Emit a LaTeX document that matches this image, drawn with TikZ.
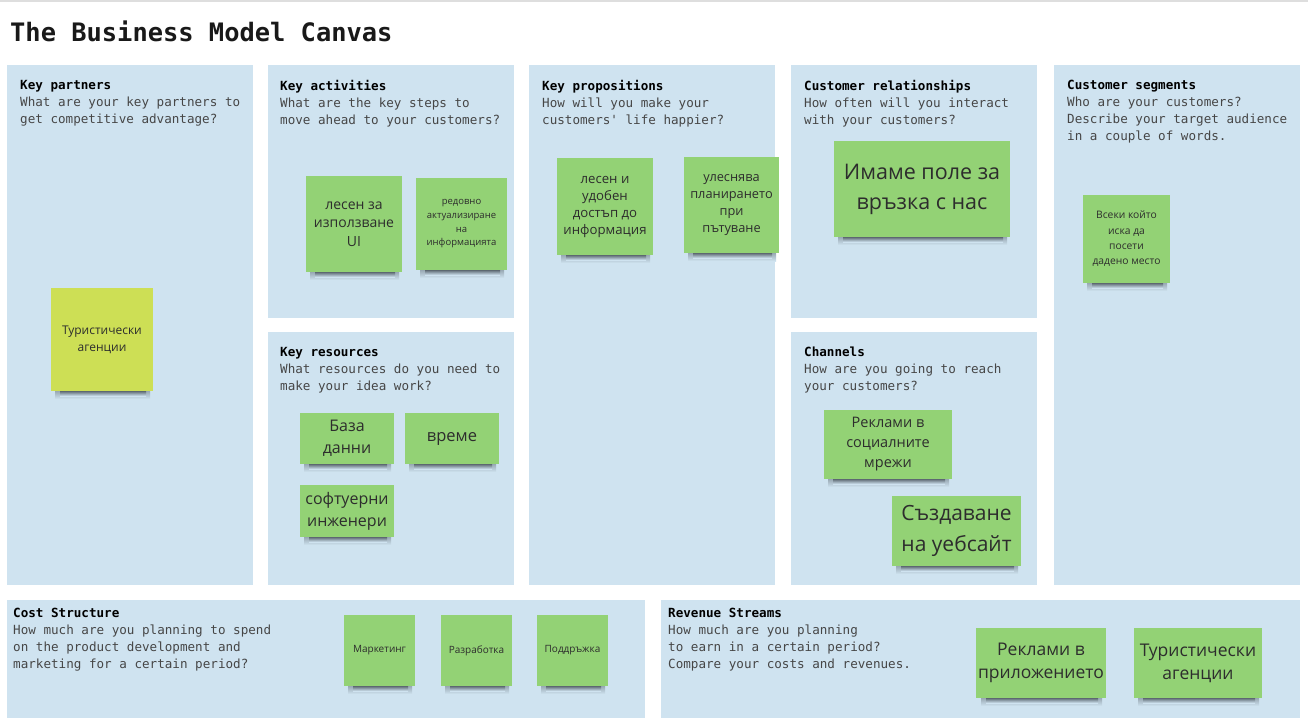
\documentclass[tikz,border=0pt]{standalone}
\usepackage{fontspec}
\newfontfamily\monof{DejaVu Sans Mono}
\newfontfamily\osans{Open Sans}
\definecolor{panelbg}{RGB}{207,227,240}
\definecolor{stgreen}{RGB}{147,210,117}
\definecolor{styellow}{RGB}{205,223,85}
\definecolor{sttext}{RGB}{45,45,45}
\definecolor{desctext}{RGB}{70,70,70}
\definecolor{toprule}{RGB}{222,222,222}
\definecolor{shadowdark}{RGB}{70,80,88}
\tikzset{
  panel/.style={fill=panelbg, draw=none},
  paneltext/.style={anchor=north west, inner sep=0pt, align=left, text=desctext,
    font=\monof\fontsize{12.6}{17}\selectfont},
  stickybox/.style={draw=none, inner sep=2pt, align=center, text=sttext},
  shadowA/.style={top color=shadowdark, bottom color=panelbg, draw=none},
  shadowB/.style={top color=shadowdark!45!panelbg, bottom color=panelbg, draw=none},
}
% #1 name #2 x1 #3 y1 #4 x2 #5 y2 #6 size #7 leading #8 colour #9 text
\newcommand\stk[9]{%
  \shade[shadowB] ({#2+4},{#5-1}) rectangle ({#4-3},{#5+8});
  \shade[shadowA] ({#2+9},{#5-1}) rectangle ({#4-7},{#5+5});
  \node[stickybox, fill=#8, minimum width={(#4-#2)*1pt}, minimum height={(#5-#3)*1pt},
    font=\osans\fontsize{#6}{#7}\selectfont] (#1) at ({(#2+#4)/2},{(#3+#5)/2}) {#9};%
}
\begin{document}
\begin{tikzpicture}[x=1pt,y=-1pt]
\useasboundingbox (0,0) rectangle (1308,722);
\fill[white] (0,0) rectangle (1308,722);
\fill[toprule] (0,0) rectangle (1308,2);

\node[anchor=base west, inner sep=0pt, text=black!90, font=\monof\bfseries\fontsize{25.4}{30}\selectfont] (title) at (10,42) {The Business Model Canvas};

% panels
\path[panel] (7,65) rectangle (253,585);
\path[panel] (268,65) rectangle (514,318);
\path[panel] (268,332) rectangle (514,585);
\path[panel] (529,65) rectangle (775,585);
\path[panel] (791,65) rectangle (1037,318);
\path[panel] (791,332) rectangle (1037,585);
\path[panel] (1054,65) rectangle (1300,585);
\path[panel] (7,600) rectangle (645,718);
\path[panel] (661,600) rectangle (1300,718);

% panel texts
\node[paneltext] (kp) at (20,80) {\textcolor{black}{\bfseries Key partners}\\What are your key partners to\\get competitive advantage?};
\node[paneltext] (ka) at (280,80) {\textcolor{black}{\bfseries Key activities}\\What are the key steps to\\move ahead to your customers?};
\node[paneltext] (kr) at (280,347) {\textcolor{black}{\bfseries Key resources}\\What resources do you need to\\make your idea work?};
\node[paneltext] (kpr) at (542,80) {\textcolor{black}{\bfseries Key propositions}\\How will you make your\\customers' life happier?};
\node[paneltext] (cr) at (804,80) {\textcolor{black}{\bfseries Customer relationships}\\How often will you interact\\with your customers?};
\node[paneltext] (ch) at (804,347) {\textcolor{black}{\bfseries Channels}\\How are you going to reach\\your customers?};
\node[paneltext] (cs) at (1067,80) {\textcolor{black}{\bfseries Customer segments}\\Who are your customers?\\Describe your target audience\\in a couple of words.};
\node[paneltext] (cost) at (13,608) {\textcolor{black}{\bfseries Cost Structure}\\How much are you planning to spend\\on the product development and\\marketing for a certain period?};
\node[paneltext] (rev) at (668,608) {\textcolor{black}{\bfseries Revenue Streams}\\How much are you planning\\to earn in a certain period?\\Compare your costs and revenues.};

% stickies
\stk{s1}{51}{288}{153}{391}{12}{17}{styellow}{Туристически\\агенции}
\stk{s2}{306}{176}{402}{272}{14}{18.5}{stgreen}{лесен за\\използване\\UI}
\stk{s3}{416}{178}{507}{270}{9.5}{13.7}{stgreen}{редовно\\актуализиране\\на\\информацията}
\stk{s4}{557}{158}{653}{255}{13.2}{17}{stgreen}{лесен и\\удобен\\достъп до\\информация}
\stk{s5}{684}{157}{779}{253}{12.8}{17}{stgreen}{улеснява\\планирането\\при\\пътуване}
\stk{s6}{834}{141}{1010}{237}{21.5}{30}{stgreen}{Имаме поле за\\връзка с нас}
\stk{s7}{1083}{195}{1170}{283}{10.3}{15.3}{stgreen}{Всеки който\\иска да\\посети\\дадено место}
\stk{s8}{300}{413}{394}{464}{16}{22}{stgreen}{База\\данни}
\stk{s9}{405}{413}{499}{464}{16.5}{22}{stgreen}{време}
\stk{s10}{300}{485}{394}{537}{16}{22}{stgreen}{софтуерни\\инженери}
\stk{s11}{824}{410}{952}{479}{14.5}{20}{stgreen}{Реклами в\\социалните\\мрежи}
\stk{s12}{892}{496}{1021}{566}{21}{31}{stgreen}{Създаване\\на уебсайт}
\stk{s13}{344}{615}{415}{686}{10}{12}{stgreen}{Маркетинг}
\stk{s14}{441}{615}{512}{686}{10}{12}{stgreen}{Разработка}
\stk{s15}{537}{615}{608}{686}{10}{12}{stgreen}{Поддръжка}
\stk{s16}{977}{628}{1105}{698}{17.5}{23}{stgreen}{Реклами в\\приложението}
\stk{s17}{1134}{628}{1262}{698}{17.5}{23}{stgreen}{Туристически\\агенции}
\end{tikzpicture}
\end{document}
